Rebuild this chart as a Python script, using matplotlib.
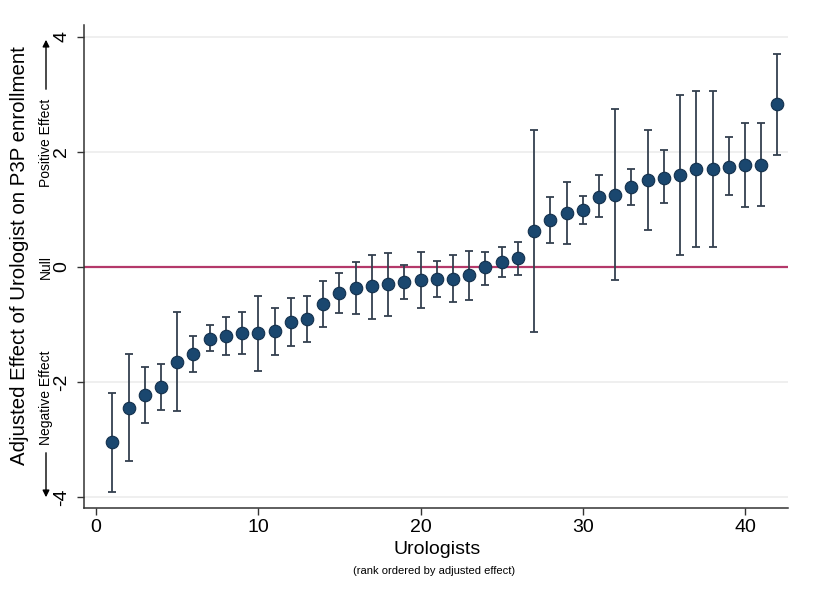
import matplotlib
matplotlib.use("Agg")
import matplotlib.pyplot as plt
import numpy as np

plt.rcParams['font.family'] = ['Liberation Sans', 'DejaVu Sans']

rank = list(range(1, 43))
effect = [-3.05, -2.45, -2.23, -2.09, -1.65, -1.52, -1.25, -1.21, -1.15, -1.15,
          -1.12, -0.96, -0.91, -0.64, -0.46, -0.37, -0.34, -0.30, -0.27, -0.23,
          -0.21, -0.21, -0.15, -0.01, 0.09, 0.15, 0.62, 0.82, 0.93, 0.98,
          1.22, 1.25, 1.38, 1.50, 1.55, 1.59, 1.70, 1.70, 1.74, 1.76,
          1.77, 2.82]
upper = [-2.20, -1.52, -1.74, -1.69, -0.79, -1.20, -1.01, -0.87, -0.79, -0.50,
         -0.72, -0.54, -0.50, -0.25, -0.11, 0.08, 0.21, 0.24, 0.03, 0.26,
         0.10, 0.20, 0.27, 0.26, 0.34, 0.43, 2.38, 1.22, 1.47, 1.23,
         1.59, 2.74, 1.70, 2.37, 2.02, 2.98, 3.06, 3.06, 2.25, 2.49,
         2.50, 3.70]
lower = [-3.91, -3.37, -2.71, -2.48, -2.50, -1.83, -1.47, -1.54, -1.51, -1.81,
         -1.53, -1.37, -1.30, -1.05, -0.81, -0.82, -0.90, -0.86, -0.56, -0.72,
         -0.52, -0.62, -0.58, -0.31, -0.17, -0.14, -1.14, 0.42, 0.40, 0.74,
         0.86, -0.23, 1.07, 0.64, 1.10, 0.20, 0.34, 0.34, 1.24, 1.04,
         1.06, 1.94]
xticks = [0, 10, 20, 30, 40]
yticks = [-4, -2, 0, 2, 4]

W, H = 818, 594
fig = plt.figure(figsize=(W / 100, H / 100), dpi=100)
fig.patch.set_facecolor('white')

def fx(px):
    return px / W

def fy(py):
    return 1 - py / H

left, right, bottom, top = 84, 788, 508, 25
ax = fig.add_axes([fx(left), fy(bottom), (right - left) / W, (bottom - top) / H])

eff = np.array(effect)
up = np.array(upper)
lo = np.array(lower)

for yv in yticks:
    if yv != 0:
        ax.axhline(yv, color='#ececec', lw=1.2, zorder=0)
ax.axhline(0, color='#b4396a', lw=1.6, zorder=1)

ax.errorbar(rank, eff, yerr=[eff - lo, up - eff], fmt='none',
            ecolor='#34404f', elinewidth=1.3, capsize=3.2, capthick=1.3, zorder=2)
ax.plot(rank, eff, 'o', color='#1a476f', markersize=9,
        markeredgecolor='#13304d', markeredgewidth=0.8, zorder=3)

ax.set_xlim(-0.75, 42.65)
ax.set_ylim(-4.19, 4.2)
ax.set_xticks(xticks)
ax.set_yticks(yticks)
ax.set_yticklabels([str(v) for v in yticks], rotation=90, va='center')
ax.tick_params(axis='both', direction='out', length=5, width=1, color='#333333',
               labelsize=14, pad=3)
ax.tick_params(axis='y', pad=5)
for s in ['top', 'right']:
    ax.spines[s].set_visible(False)
for s in ['left', 'bottom']:
    ax.spines[s].set_color('#333333')
    ax.spines[s].set_linewidth(1.1)

# x axis titles
fig.text(fx(437), fy(550), 'Urologists', ha='center', va='center', fontsize=14)
fig.text(fx(434), fy(571), '(rank ordered by adjusted effect)', ha='center',
         va='center', fontsize=8)

# y axis titles
fig.text(fx(20), fy(256), 'Adjusted Effect of Urologist on P3P enrollment',
         rotation=90, ha='center', va='center', fontsize=14.7)
fig.text(fx(46), fy(143), 'Positive Effect', rotation=90, ha='center',
         va='center', fontsize=10)
fig.text(fx(46), fy(267), 'Null', rotation=90, ha='center', va='center',
         fontsize=10)
fig.text(fx(46), fy(398), 'Negative Effect', rotation=90, ha='center',
         va='center', fontsize=10)
arrow = dict(arrowstyle='-|>', color='black', lw=1.0, mutation_scale=10)
fig.patches.append(matplotlib.patches.FancyArrowPatch(
    (fx(46), fy(92)), (fx(46), fy(37)), transform=fig.transFigure, **arrow))
fig.patches.append(matplotlib.patches.FancyArrowPatch(
    (fx(46), fy(450)), (fx(46), fy(500)), transform=fig.transFigure, **arrow))

fig.savefig('out.png', dpi=100, facecolor='white')
